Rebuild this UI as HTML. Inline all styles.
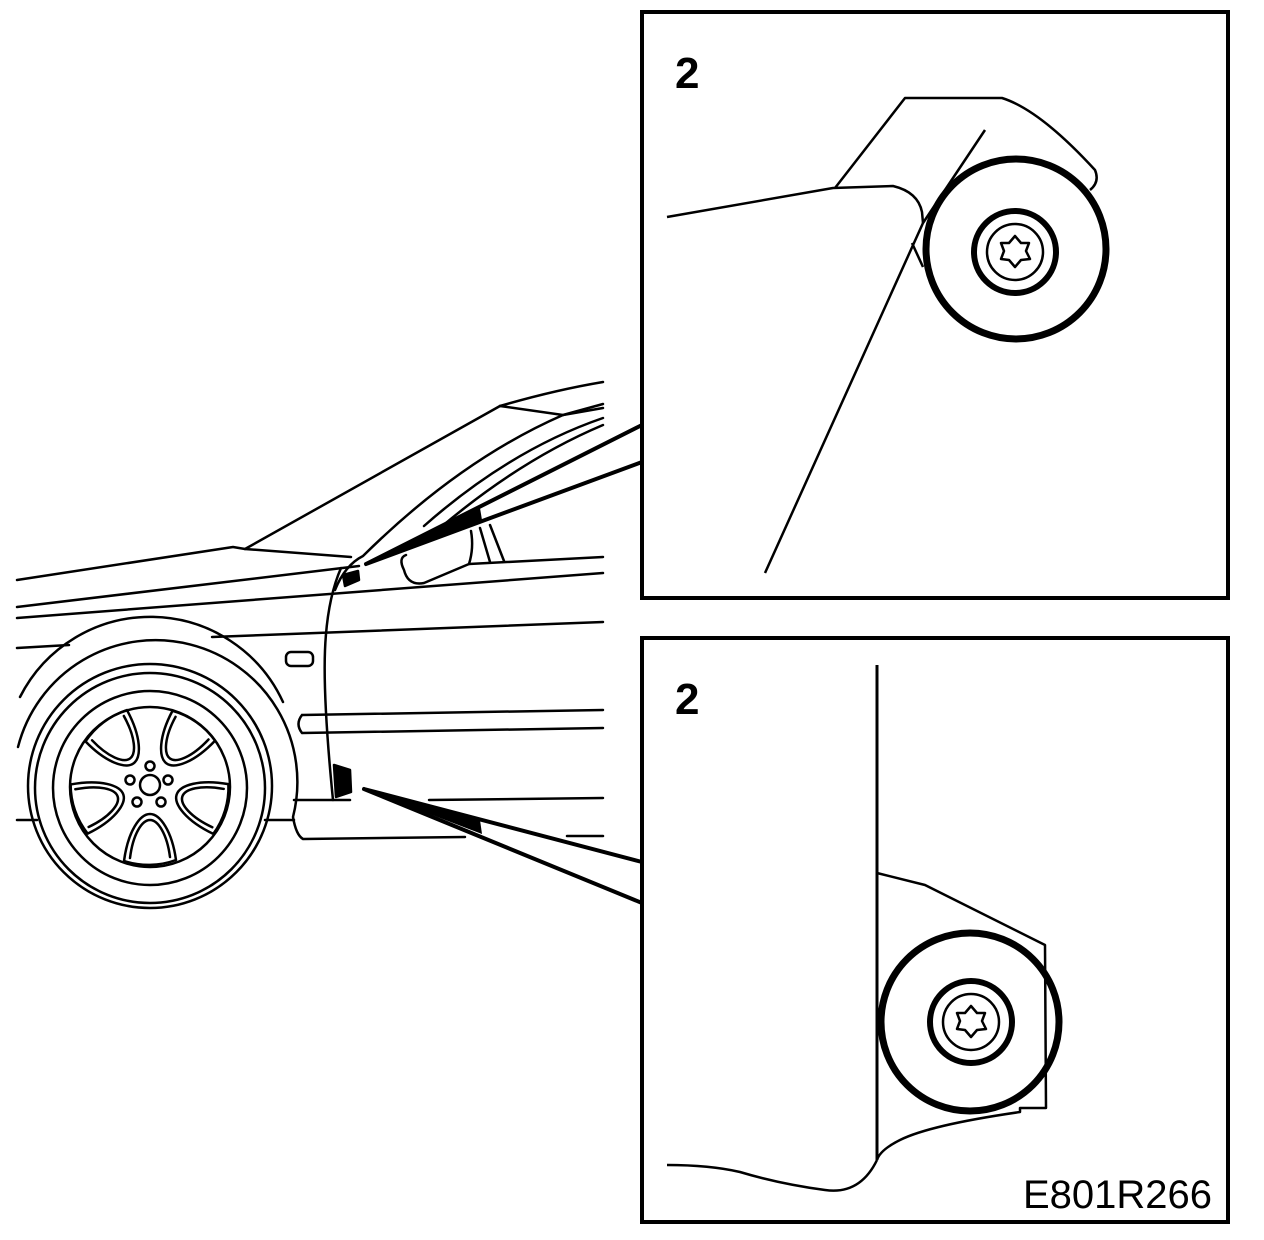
<!DOCTYPE html>
<html><head><style>
html,body{margin:0;padding:0;background:#fff;}
svg{display:block;}
text{font-family:"Liberation Sans",Arial,sans-serif;fill:#000;}
</style></head><body>
<svg width="1264" height="1240" viewBox="0 0 1264 1240" xmlns="http://www.w3.org/2000/svg">
<g fill="none" stroke="#000" stroke-width="2.5" stroke-linecap="round" stroke-linejoin="round">
<path d="M17,580 L233,547 L245,549 L351,557"/>
<path d="M245,549 L500,406"/>
<path d="M500,406 Q555,390 603,382"/>
<path d="M500,406 L563,415 L603,404"/>
<path d="M335,590 Q345,565 363,556 Q460,460 563,415 L603,408"/>
<path d="M424,526 Q510,450 603,418"/>
<path d="M440,528 Q520,460 603,425"/>
<path d="M17,607 L359,566"/>
<path d="M17,618 L603,573"/>
<path d="M469,564 L603,557"/>
<path d="M17,648 L69,645"/>
<path d="M212,637 L603,622"/>
<path d="M341,568 Q327,600 325,650 Q323,700 333,800"/>
<path d="M302,715 L603,710 M302,733 L603,728 M302,715 Q295,724 302,733"/>
<path d="M429,800 L603,798"/>
<path d="M567,836 L603,836"/>
<path d="M17,820 L37,820 M265,820 L294,820"/>
<path d="M20,697 A146,146 0 0 1 283,702"/>
<path d="M18,747 A140,140 0 0 1 293,817 Q296,835 303,839 L465,837"/>
<path d="M294,800 L350,800"/>
<rect x="286" y="652" width="27" height="14" rx="5"/>
<path d="M404,570 Q398,558 406,555 M404,570 Q408,586 424,583 L469,564 Q474,548 471,531"/>
<path d="M480,528 L490,562 M490,525 L504,561"/>
<path d="M343,575 L358,571 L359,580 L345,586 Z" fill="#000"/>
<path d="M334,765 L350,770 L351,792 L336,797 Z" fill="#000"/>
<circle cx="150" cy="786" r="122"/>
<circle cx="150" cy="788" r="115"/>
<circle cx="150" cy="788" r="97"/>
<circle cx="150" cy="787" r="80"/>
<circle cx="150" cy="785" r="10"/>
<circle cx="150" cy="766" r="4.5"/>
<circle cx="168" cy="780" r="4.5"/>
<circle cx="161" cy="802" r="4.5"/>
<circle cx="137" cy="802" r="4.5"/>
<circle cx="130" cy="780" r="4.5"/>
<g transform="translate(150,786)">
<g id="w"><path d="M-26,75 C-22,45 -10,28 0,28 C10,28 22,45 26,74 A79,79 0 0 1 -26,75 Z"/><path d="M-20,72 C-17,48 -8,34 0,34 C8,34 17,48 20,71"/></g>
<use href="#w" transform="rotate(72)"/>
<use href="#w" transform="rotate(144)"/>
<use href="#w" transform="rotate(216)"/>
<use href="#w" transform="rotate(288)"/>
</g>
</g>
<g stroke="#000" stroke-width="4" fill="none" stroke-linecap="round">
<path d="M366,564 L642,425 M366,564 L642,462"/>
<path d="M364,789 L642,862 M364,789 L642,903"/>
</g>
<path d="M366,564 L480,508 L482,520 Z" fill="#000"/>
<path d="M364,789 L480,820 L482,834 Z" fill="#000"/>
<rect x="642" y="12" width="586" height="586" fill="#fff" stroke="#000" stroke-width="4"/>
<rect x="642" y="638" width="586" height="584" fill="#fff" stroke="#000" stroke-width="4"/>
<text x="675" y="88" font-size="44" font-weight="bold">2</text>
<text x="675" y="714" font-size="44" font-weight="bold">2</text>
<text x="1212" y="1208" font-size="40" text-anchor="end">E801R266</text>
<g fill="none" stroke="#000" stroke-width="2.5" stroke-linejoin="round">
<path d="M835,188 L905,98 L1002,98 Q1040,110 1095,170 Q1100,182 1090,190"/>
<path d="M985,130 L923,223 L765,573"/>
<path d="M667,217 L833,188 L893,186 Q918,192 922,212 L923,223"/>
<path d="M912,243 L923,267"/>
<circle cx="1016" cy="249" r="90" stroke-width="7"/>
<circle cx="1015" cy="252" r="41" stroke-width="6"/>
<circle cx="1015" cy="252" r="28"/>
<path d="M1015,236 L1021,243 L1029,243 L1026,251 L1030,259 L1021,260 L1015,267 L1009,260 L1001,259 L1004,251 L1001,243 L1009,243 Z"/>
</g>
<g fill="none" stroke="#000" stroke-width="2.5" stroke-linejoin="round">
<path d="M877,665 L877,1160" stroke-width="3"/>
<path d="M877,1160 Q860,1195 825,1190 Q780,1184 740,1172 Q710,1165 667,1165"/>
<path d="M877,873 L925,885 L1045,945 L1046,1108 L1020,1108 L1020,1112 Q930,1125 900,1140 Q880,1150 877,1160"/>
<circle cx="970" cy="1022" r="89" stroke-width="7"/>
<circle cx="971" cy="1022" r="41" stroke-width="6"/>
<circle cx="971" cy="1022" r="28"/>
<path d="M971,1006 L977,1013 L985,1013 L982,1021 L986,1029 L977,1030 L971,1037 L965,1030 L957,1029 L960,1021 L957,1013 L965,1013 Z"/>
</g>
</svg>
</body></html>
